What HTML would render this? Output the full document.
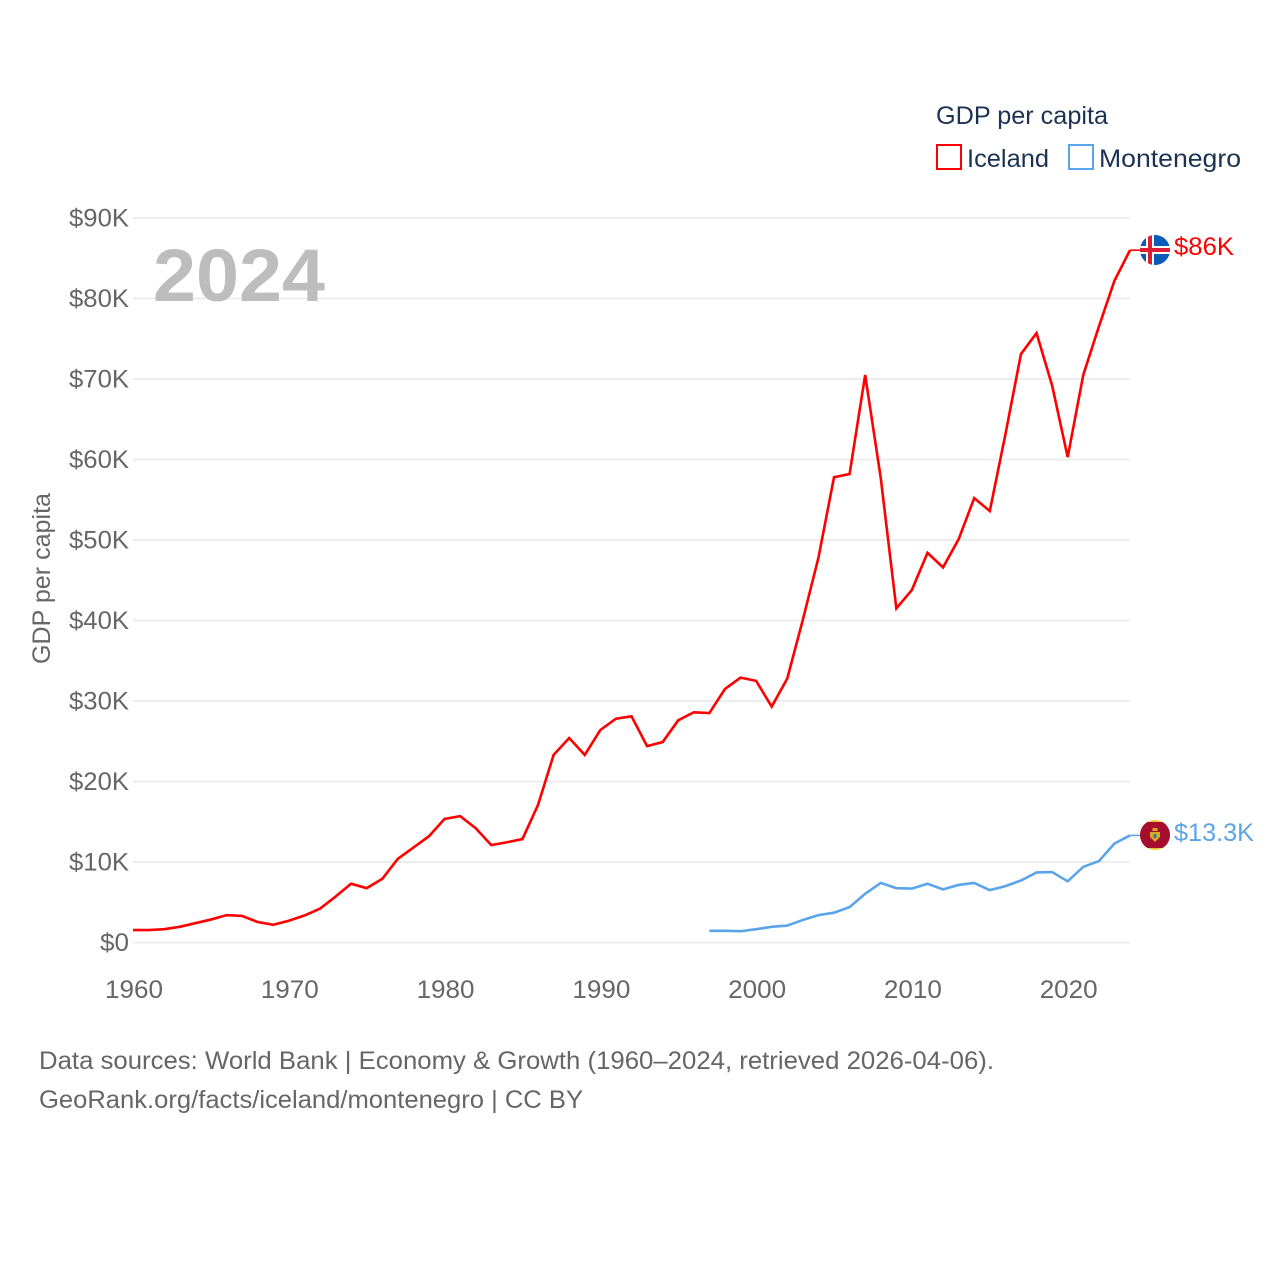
<!DOCTYPE html>
<html lang="en">
<head>
<meta charset="utf-8">
<title>GDP per capita: Iceland and Montenegro</title>
<style>
html,body{margin:0;padding:0;background:#fff;}
svg{display:block;font-family:"Liberation Sans",sans-serif;}
</style>
</head>
<body>
<svg id="chart" xmlns="http://www.w3.org/2000/svg" width="1280" height="1280" viewBox="0 0 1280 1280">
  <defs>
    <clipPath id="flag-clip-is"><circle cx="1155" cy="250" r="15"></circle></clipPath>
    <clipPath id="flag-clip-me"><circle cx="1155" cy="835" r="15"></circle></clipPath>
  </defs>
  <rect width="1280" height="1280" fill="#fff"></rect>
  <g id="grid"></g>
  <g id="yticks"></g>
  <g id="xticks"></g>
  <text x="153" y="301" font-size="74" font-weight="700" fill="#bdbdbd" textLength="172" lengthAdjust="spacingAndGlyphs">2024</text>
  <text transform="translate(50,664) rotate(-90)" font-size="25" fill="#666" textLength="171" lengthAdjust="spacingAndGlyphs">GDP per capita</text>
  <g id="series"></g>

  <g clip-path="url(#flag-clip-is)">
    <rect x="1140" y="235" width="30" height="30" fill="#0a5cb8"></rect>
    <rect x="1146" y="235" width="8" height="30" fill="#fff"></rect>
    <rect x="1140" y="246" width="30" height="8" fill="#fff"></rect>
    <rect x="1148" y="235" width="4" height="30" fill="#dc1e35"></rect>
    <rect x="1140" y="248" width="30" height="4" fill="#dc1e35"></rect>
  </g>
  <g clip-path="url(#flag-clip-me)">
    <rect x="1140" y="820" width="30" height="30" fill="#f0c53c"></rect>
    <rect x="1140" y="822" width="30" height="26" fill="#a50e2d"></rect>
    <path d="M1150 832 h10 v5 l-5 5 l-5 -5 z" fill="#d6a92c"></path>
    <rect x="1152.500" y="828" width="5" height="3" fill="#d6a92c"></rect>
    <rect x="1153.500" y="834" width="3" height="4" fill="#3b7f6c"></rect>
  </g>
  <text x="1174" y="255" font-size="25" fill="#ff0000" textLength="60" lengthAdjust="spacingAndGlyphs">$86K</text>
  <text x="1174" y="841" font-size="25" fill="#5ba4ea" textLength="80" lengthAdjust="spacingAndGlyphs">$13.3K</text>

  <g>
    <text x="936" y="124" font-size="25" fill="#1b3252" textLength="172" lengthAdjust="spacingAndGlyphs">GDP per capita</text>
    <rect x="937" y="145" width="24" height="24" fill="none" stroke="#ff0000" stroke-width="2"></rect>
    <text x="967" y="167" font-size="25" fill="#1b3252" textLength="82" lengthAdjust="spacingAndGlyphs">Iceland</text>
    <rect x="1069" y="145" width="24" height="24" fill="none" stroke="#5ba4ea" stroke-width="2"></rect>
    <text x="1099" y="167" font-size="25" fill="#1b3252" textLength="142" lengthAdjust="spacingAndGlyphs">Montenegro</text>
  </g>

  <text x="39" y="1069" font-size="25" fill="#666" textLength="955" lengthAdjust="spacingAndGlyphs">Data sources: World Bank | Economy &amp; Growth (1960–2024, retrieved 2026-04-06).</text>
  <text x="39" y="1108" font-size="25" fill="#666" textLength="544" lengthAdjust="spacingAndGlyphs">GeoRank.org/facts/iceland/montenegro | CC BY</text>
</svg>
<script>
const yTickValues = [0, 10, 20, 30, 40, 50, 60, 70, 80, 90];
const yTickLabels = ["$0", "$10K", "$20K", "$30K", "$40K", "$50K", "$60K", "$70K", "$80K", "$90K"];
const xTickYears = [1960, 1970, 1980, 1990, 2000, 2010, 2020];
const icelandStartYear = 1960;
const icelandValues = [1.55, 1.55, 1.65, 1.95, 2.4, 2.85, 3.4, 3.3, 2.55, 2.2,
  2.7, 3.35, 4.2, 5.7, 7.3, 6.75, 7.9, 10.4, 11.8, 13.2,
  15.35, 15.7, 14.2, 12.1, 12.45, 12.85, 17.1, 23.3, 25.4, 23.3,
  26.4, 27.8, 28.1, 24.4, 24.9, 27.6, 28.6, 28.5, 31.5, 32.9,
  32.5, 29.3, 32.8, 40.1, 47.8, 57.8, 58.2, 70.5, 57.7, 41.5,
  43.8, 48.4, 46.6, 50.1, 55.2, 53.6, 63.1, 73.1, 75.7, 69.2,
  60.3, 70.5, 76.5, 82.2, 86.0];
const montenegroStartYear = 1997;
const montenegroValues = [1.45, 1.45, 1.4, 1.65, 1.95, 2.1, 2.8, 3.4, 3.7, 4.4,
  6.05, 7.4, 6.75, 6.7, 7.3, 6.6, 7.15, 7.4, 6.5, 7.0,
  7.7, 8.7, 8.75, 7.6, 9.4, 10.1, 12.3, 13.3];

const NS = "http://www.w3.org/2000/svg";
const x = function (year) { return 133 + (year - 1960) * (1130 - 133) / 64; };
const y = function (value) { return 942.5 - value * (942.5 - 218) / 90; };

function make(tag, attrs, parent) {
  const el = document.createElementNS(NS, tag);
  Object.keys(attrs).forEach(function (k) { el.setAttribute(k, attrs[k]); });
  parent.appendChild(el);
  return el;
}

const gridGroup = document.getElementById("grid");
const yGroup = document.getElementById("yticks");
const xGroup = document.getElementById("xticks");
const seriesGroup = document.getElementById("series");

yTickValues.forEach(function (v, i) {
  const line = make("line", { x1: 133, x2: 1130, y1: y(v), y2: y(v), stroke: "#ededed", "stroke-width": 2 }, gridGroup);
  
  
  const label = make("text", { x: 129, y: y(v) + 8.5, "font-size": 25, fill: "#666", "text-anchor": "end", textLength: v === 0 ? 29 : 60, lengthAdjust: "spacingAndGlyphs" }, yGroup);
  
  
  label.textContent = yTickLabels[i];
});

xTickYears.forEach(function (yr) {
  const label = make("text", { x: x(yr) + 1, y: 998, "font-size": 25, fill: "#666", "text-anchor": "middle", textLength: 58, lengthAdjust: "spacingAndGlyphs" }, xGroup);
  
  
  label.textContent = String(yr);
});

function linePoints(startYear, values) {
  return values.map(function (v, i) { return x(startYear + i).toFixed(2) + "," + y(v).toFixed(2); });
}

const icelandPts = linePoints(icelandStartYear, icelandValues);
const icelandEndY = y(icelandValues[icelandValues.length - 1]);
const icelandLine = make("polyline", { points: icelandPts.join(" "), fill: "none", stroke: "#ff0000", "stroke-width": 2.6, "stroke-linejoin": "miter" }, seriesGroup);


const icelandConn = make("line", { x1: 1130, x2: 1141, y1: icelandEndY, y2: icelandEndY, stroke: "#ff0000", "stroke-width": 1.6 }, seriesGroup);



const montenegroPts = linePoints(montenegroStartYear, montenegroValues);
const montenegroEndY = y(montenegroValues[montenegroValues.length - 1]);
const montenegroLine = make("polyline", { points: montenegroPts.join(" "), fill: "none", stroke: "#5ba4ea", "stroke-width": 2.6, "stroke-linejoin": "miter" }, seriesGroup);


const montenegroConn = make("line", { x1: 1130, x2: 1141, y1: montenegroEndY, y2: montenegroEndY, stroke: "#5ba4ea", "stroke-width": 1.6 }, seriesGroup);


</script>
</body>
</html>
